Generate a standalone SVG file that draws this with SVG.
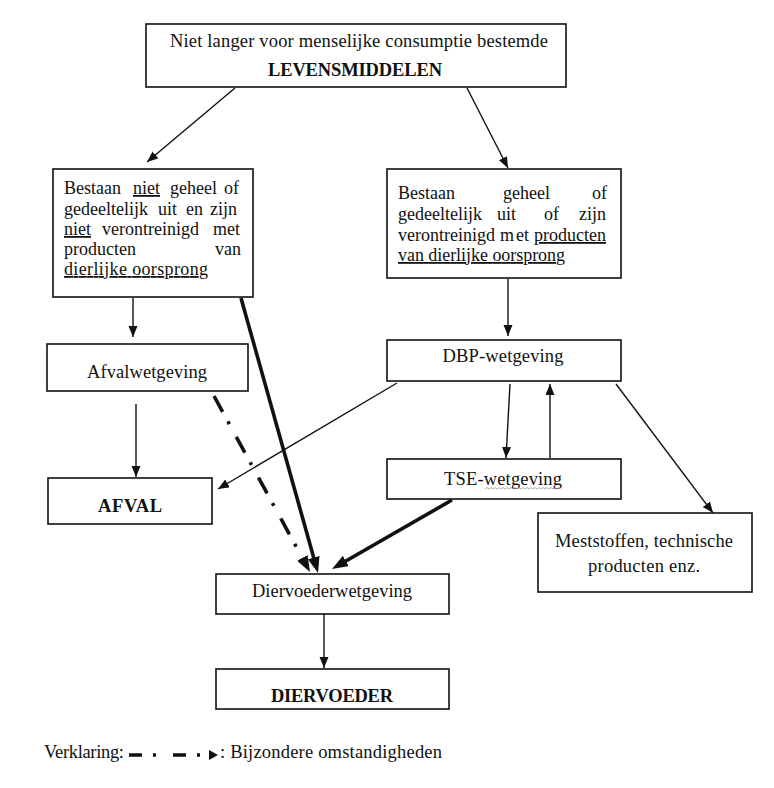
<svg xmlns="http://www.w3.org/2000/svg" width="774" height="788" viewBox="0 0 774 788">
<style>
  .box { fill: #fff; stroke: #111; stroke-width: 1.6; }
  text { font-family: "Liberation Serif", "Times New Roman", "DejaVu Serif", serif; font-size: 18.5px; fill: #111; }
  .p { font-size: 18px; }
  .b { font-weight: bold; }
  .c { text-anchor: middle; }
  .u { text-decoration: underline; }
  .thin { stroke: #111; stroke-width: 1.4; fill: none; marker-end: url(#ah); }
  .thick { stroke: #111; stroke-width: 3.6; fill: none; marker-end: url(#ahb); }
  .dashdot { stroke: #111; stroke-width: 3.6; fill: none; stroke-dasharray: 18 11 3 14.5; marker-end: url(#ahb); }
</style>
<defs>
  <marker id="ah" markerUnits="userSpaceOnUse" markerWidth="12" markerHeight="10" refX="11" refY="4.5" orient="auto">
    <path d="M0,0 L11,4.5 L0,9 z" fill="#111"/>
  </marker>
  <marker id="ahb" markerUnits="userSpaceOnUse" markerWidth="17" markerHeight="13" refX="10" refY="6" orient="auto">
    <path d="M0,0 L16,6 L0,12 z" fill="#111"/>
  </marker>
</defs>
<rect width="774" height="788" fill="#fff"/>

<g id="connectors">
  <line class="thin" x1="235" y1="88" x2="147" y2="162"/>
  <line class="thin" x1="467" y1="88" x2="508" y2="168"/>
  <line class="thin" x1="133" y1="298" x2="133" y2="337"/>
  <line class="thin" x1="508" y1="279" x2="508" y2="336"/>
  <line class="thin" x1="510" y1="384" x2="506" y2="458"/>
  <line class="thin" x1="550" y1="458" x2="550" y2="384"/>
  <line class="thin" x1="397" y1="383" x2="218" y2="489"/>
  <line class="thin" x1="616" y1="384" x2="713" y2="513"/>
  <line class="thin" x1="136" y1="404" x2="136" y2="477"/>
  <line class="thin" x1="324" y1="614" x2="324" y2="668"/>
  <line class="thick" x1="241" y1="298" x2="316.4" y2="567.2"/>
  <line class="dashdot" x1="214" y1="396" x2="307.1" y2="566.7"/>
  <line class="thick" x1="452" y1="500" x2="337.2" y2="566"/>
</g>

<g id="n-top">
  <rect class="box" x="146" y="24" width="420" height="63"/>
  <text class="c" x="359" y="47" textLength="378" lengthAdjust="spacing">Niet langer voor menselijke consumptie bestemde</text>
  <text class="c b" x="355" y="76" textLength="174" lengthAdjust="spacing">LEVENSMIDDELEN</text>
</g>

<g id="n-left">
  <rect class="box" x="53" y="169" width="200" height="128"/>
  <text class="p" y="194"><tspan x="64">Bestaan</tspan><tspan x="133" class="u">niet</tspan><tspan x="170">geheel</tspan><tspan x="224">of</tspan></text>
  <text class="p" y="215"><tspan x="64">gedeeltelijk</tspan><tspan x="158">uit</tspan><tspan x="186">en</tspan><tspan x="210">zijn</tspan></text>
  <text class="p" y="235"><tspan x="64" class="u">niet</tspan><tspan x="102">verontreinigd</tspan><tspan x="213">met</tspan></text>
  <text class="p" y="255"><tspan x="64">producten</tspan><tspan x="215">van</tspan></text>
  <text class="p u" y="275" x="64" textLength="144" lengthAdjust="spacing">dierlijke oorsprong</text>
</g>

<g id="n-right">
  <rect class="box" x="387" y="169" width="234" height="109"/>
  <text class="p" y="199"><tspan x="398">Bestaan</tspan><tspan x="503">geheel</tspan><tspan x="592">of</tspan></text>
  <text class="p" y="220"><tspan x="398">gedeeltelijk</tspan><tspan x="497">uit</tspan><tspan x="544">of</tspan><tspan x="579">zijn</tspan></text>
  <text class="p" y="241"><tspan x="398">verontreinigd</tspan><tspan x="500">m</tspan><tspan x="516">et</tspan><tspan x="534" class="u">producten</tspan></text>
  <text class="p u" y="261" x="398" textLength="167" lengthAdjust="spacing">van dierlijke oorsprong</text>
</g>

<g id="n-afvalwet">
  <rect class="box" x="47" y="344" width="201" height="47"/>
  <text class="c" x="147" y="378" textLength="120" lengthAdjust="spacing">Afvalwetgeving</text>
</g>

<g id="n-dbp">
  <rect class="box" x="387" y="340" width="234" height="41"/>
  <text class="c" x="503" y="362" textLength="121" lengthAdjust="spacing">DBP-wetgeving</text>
</g>

<g id="n-tse">
  <rect class="box" x="387" y="459" width="234" height="40"/>
  <text class="c" x="503" y="485" textLength="118" lengthAdjust="spacing">TSE-wetgeving</text>
  <path d="M485,489 l2,-1.5 l2,1.5 l2,-1.5 l2,1.5 l2,-1.5 l2,1.5 l2,-1.5 l2,1.5 l2,-1.5 l2,1.5 l2,-1.5 l2,1.5 l2,-1.5 l2,1.5 l2,-1.5 l2,1.5 l2,-1.5 l2,1.5 l2,-1.5 l2,1.5 l2,-1.5 l2,1.5 l2,-1.5 l2,1.5 l2,-1.5 l2,1.5 l2,-1.5 l2,1.5 l2,-1.5 l2,1.5 l2,-1.5 l2,1.5 l2,-1.5 l2,1.5 l2,-1.5 l2,1.5 l2,-1.5" fill="none" stroke="#999" stroke-width="0.8"/>
</g>

<g id="n-afval">
  <rect class="box" x="48" y="478" width="164" height="46"/>
  <text class="c b" x="130" y="512" textLength="64" lengthAdjust="spacing">AFVAL</text>
</g>

<g id="n-mest">
  <rect class="box" x="538" y="513" width="214" height="79"/>
  <text class="c" x="644" y="547" textLength="178" lengthAdjust="spacing">Meststoffen,  technische</text>
  <text class="c" x="644" y="572" textLength="112" lengthAdjust="spacing">producten enz.</text>
</g>

<g id="n-diervoederwet">
  <rect class="box" x="216" y="574" width="233" height="40"/>
  <text class="c" x="332" y="597" textLength="160" lengthAdjust="spacing">Diervoederwetgeving</text>
</g>

<g id="n-diervoeder">
  <rect class="box" x="216" y="669" width="233" height="40"/>
  <text class="c b" x="332" y="702" textLength="122" lengthAdjust="spacing">DIERVOEDER</text>
</g>

<g id="legend">
  <text x="44" y="758" textLength="80" lengthAdjust="spacing">Verklaring:</text>
  <line x1="129" y1="755" x2="204" y2="755" stroke="#111" stroke-width="3.6" stroke-dasharray="13 11 3 17"/>
  <polygon points="209,750 218,755 209,760" fill="#111"/>
  <text x="220" y="758" textLength="222" lengthAdjust="spacing">: Bijzondere omstandigheden</text>
</g>
</svg>
